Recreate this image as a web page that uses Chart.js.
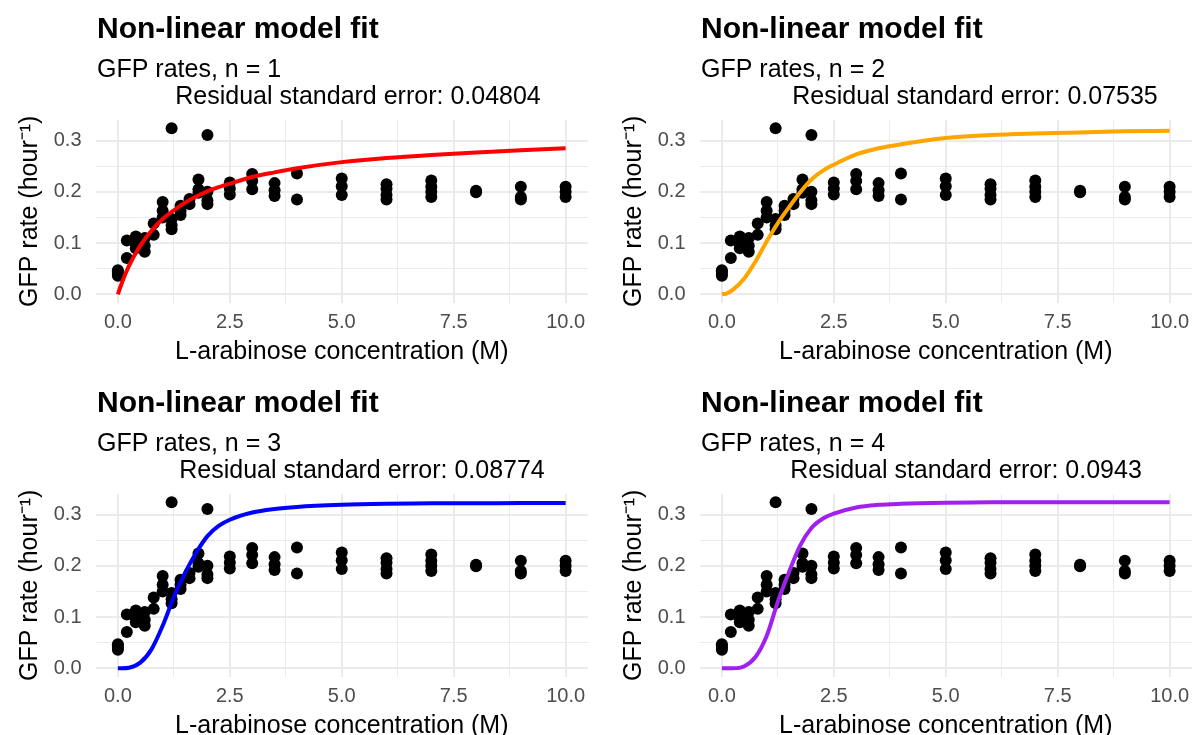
<!DOCTYPE html>
<html>
<head>
<meta charset="utf-8">
<script src="https://cdn.jsdelivr.net/npm/chart.js@4.4.0/dist/chart.umd.min.js"></script>
<style>
html,body{margin:0;padding:0;background:#ffffff;overflow:hidden;width:1198px;height:735px;position:relative;}
.panel{position:absolute;width:594px;height:368px;}
canvas{display:block;}
</style>
</head>
<body>
<div class="panel" style="left:0px;top:0px"><canvas id="c0" width="594" height="368"></canvas></div>
<div class="panel" style="left:604px;top:0px"><canvas id="c1" width="594" height="368"></canvas></div>
<div class="panel" style="left:0px;top:374px"><canvas id="c2" width="594" height="368"></canvas></div>
<div class="panel" style="left:604px;top:374px"><canvas id="c3" width="594" height="368"></canvas></div>
<script>
// ---- observed data (L-arabinose concentration, GFP rate) ----
const concentrationM = [
  0, 0, 0, 0,
  0.2, 0.2,
  0.4, 0.4, 0.4,
  0.6, 0.6, 0.6,
  0.8, 0.8,
  1.0, 1.0, 1.0,
  1.2, 1.2, 1.2, 1.2,
  1.4, 1.4, 1.4,
  1.6, 1.6,
  1.8, 1.8, 1.8,
  2.0, 2.0, 2.0, 2.0,
  2.5, 2.5, 2.5,
  3, 3, 3,
  3.5, 3.5, 3.5,
  4, 4,
  5, 5, 5,
  6, 6, 6, 6,
  7, 7, 7, 7,
  8, 8,
  9, 9, 9,
  10, 10, 10
];
const gfpRate = [
  0.047, 0.044, 0.040, 0.036,
  0.105, 0.071,
  0.113, 0.098, 0.090,
  0.110, 0.095, 0.083,
  0.138, 0.116,
  0.180, 0.163, 0.150,
  0.324, 0.147, 0.135, 0.127,
  0.173, 0.163, 0.155,
  0.186, 0.176,
  0.224, 0.205, 0.198,
  0.311, 0.200, 0.183, 0.176,
  0.218, 0.206, 0.195,
  0.235, 0.221, 0.205,
  0.217, 0.203, 0.192,
  0.236, 0.185,
  0.226, 0.211, 0.194,
  0.215, 0.206, 0.194, 0.185,
  0.222, 0.210, 0.200, 0.190,
  0.202, 0.199,
  0.210, 0.190, 0.185,
  0.210, 0.200, 0.190
];

// ---- fitted curves ----
const fitX  = [0, 0.1, 0.25, 0.5, 0.75, 1, 1.25, 1.5, 1.75, 2, 2.25, 2.5, 3, 3.5, 4, 5, 6, 7, 8, 9, 10];
const fitN1 = [0, 0.025, 0.056, 0.095, 0.124, 0.147, 0.164, 0.179, 0.191, 0.201, 0.209, 0.216, 0.229, 0.238, 0.246, 0.258, 0.266, 0.272, 0.277, 0.281, 0.285];
const fitN2 = [0, 0.0015, 0.009, 0.031, 0.064, 0.103, 0.139, 0.170, 0.199, 0.224, 0.241, 0.253, 0.273, 0.285, 0.293, 0.305, 0.311, 0.314, 0.316, 0.318, 0.319];
const fitN3 = [0, 0, 0.001, 0.011, 0.037, 0.083, 0.139, 0.186, 0.226, 0.258, 0.278, 0.290, 0.304, 0.311, 0.315, 0.319, 0.321, 0.322, 0.322, 0.3225, 0.3225];
const fitN4 = [0, 0, 0, 0.004, 0.022, 0.063, 0.130, 0.188, 0.240, 0.274, 0.292, 0.302, 0.314, 0.319, 0.321, 0.323, 0.324, 0.324, 0.324, 0.324, 0.324];

// ---- panel texts ----
const panelTitles    = ['Non-linear model fit', 'Non-linear model fit', 'Non-linear model fit', 'Non-linear model fit'];
const panelSubtitles = ['GFP rates, n = 1', 'GFP rates, n = 2', 'GFP rates, n = 3', 'GFP rates, n = 4'];
const residualLabels = ['Residual standard error: 0.04804', 'Residual standard error: 0.07535',
                        'Residual standard error: 0.08774', 'Residual standard error: 0.0943'];
const curveColors    = ['#FF0000', '#FFA500', '#0000FF', '#A020F0'];
const fitSeries      = [fitN1, fitN2, fitN3, fitN4];

// ---- axis ticks ----
const xMajorTicks  = [0, 2.5, 5, 7.5, 10];
const xTickLabels  = ['0.0', '2.5', '5.0', '7.5', '10.0'];
const xGridValues  = [0, 1.25, 2.5, 3.75, 5, 6.25, 7.5, 8.75, 10];
const yMajorTicks  = [0, 0.1, 0.2, 0.3];
const yTickLabels  = ['0.0', '0.1', '0.2', '0.3'];
const yGridValues  = [0, 0.05, 0.1, 0.15, 0.2, 0.25, 0.3];
const xAxisTitle   = 'L-arabinose concentration (M)';
const yAxisTitle   = 'GFP rate (hour\u207B\u00B9)';

// layout (not data): horizontal centre of the residual line in each panel
const residualCentreX = [358, 371, 362, 362];

const FONT = '"Liberation Sans", Arial, Helvetica, sans-serif';
Chart.defaults.font.family = FONT;
Chart.defaults.color = '#000000';

const textPlugin = {
  id: 'panelText',
  afterDraw(chart, args, opts) {
    const ctx = chart.ctx;
    ctx.save();
    ctx.fillStyle = '#000000';
    ctx.textBaseline = 'alphabetic';
    ctx.textAlign = 'left';
    ctx.font = 'bold 30px ' + FONT;
    ctx.fillText(opts.title, 97, 38);
    ctx.font = '25px ' + FONT;
    ctx.fillText(opts.subtitle, 97, 77);
    ctx.textAlign = 'center';
    ctx.fillText(opts.residual, opts.residualX, 104);
    ctx.restore();
  }
};

function makeChart(i) {
  const points = concentrationM.map((x, k) => ({x: x, y: gfpRate[k]}));
  const curve = fitX.map((x, k) => ({x: x, y: fitSeries[i][k]}));
  return new Chart(document.getElementById('c' + i), {
    type: 'scatter',
    data: {
      datasets: [
        {
          type: 'line',
          data: curve,
          borderColor: curveColors[i],
          borderWidth: 4,
          pointRadius: 0,
          fill: false,
          cubicInterpolationMode: 'monotone',
          order: 0
        },
        {
          type: 'scatter',
          data: points,
          backgroundColor: '#000000',
          borderWidth: 0,
          pointRadius: 6,
          order: 1
        }
      ]
    },
    options: {
      responsive: false,
      animation: false,
      devicePixelRatio: 1,
      layout: {padding: {top: 120, left: 0, right: 2.4, bottom: 0}},
      plugins: {
        legend: {display: false},
        tooltip: {enabled: false},
        panelText: {title: panelTitles[i], subtitle: panelSubtitles[i], residual: residualLabels[i], residualX: residualCentreX[i]}
      },
      scales: {
        x: {
          type: 'linear',
          min: -0.5,
          max: 10.5,
          afterBuildTicks: s => { s.ticks = xGridValues.map(v => ({value: v})); },
          afterFit: s => { s.height = 368 - 302.6; },
          grid: {
            color: '#EBEBEB',
            lineWidth: c => (c.tick && xMajorTicks.includes(c.tick.value)) ? 2 : 1,
            drawTicks: false
          },
          border: {display: false},
          ticks: {
            padding: 8,
            color: '#4D4D4D',
            font: {size: 20},
            maxRotation: 0,
            autoSkip: false,
            callback: v => { const j = xMajorTicks.indexOf(v); return j >= 0 ? xTickLabels[j] : ''; }
          },
          title: {
            display: true,
            text: xAxisTitle,
            color: '#000000',
            font: {size: 25},
            padding: {top: 0, bottom: 1}
          }
        },
        y: {
          type: 'linear',
          min: -0.0162,
          max: 0.3402,
          afterBuildTicks: s => { s.ticks = yGridValues.map(v => ({value: v})); },
          afterFit: s => { s.width = 95.5; },
          grid: {
            color: '#EBEBEB',
            lineWidth: c => (c.tick && yMajorTicks.includes(c.tick.value)) ? 2 : 1,
            drawTicks: false
          },
          border: {display: false},
          ticks: {
            padding: 14,
            color: '#4D4D4D',
            font: {size: 20},
            autoSkip: false,
            callback: v => { const j = yMajorTicks.indexOf(v); return j >= 0 ? yTickLabels[j] : ''; }
          },
          title: {
            display: true,
            text: yAxisTitle,
            color: '#000000',
            font: {size: 25},
            padding: {top: 15, bottom: 0}
          }
        }
      }
    },
    plugins: [textPlugin]
  });
}

for (let i = 0; i < 4; i++) makeChart(i);
</script>
</body>
</html>
